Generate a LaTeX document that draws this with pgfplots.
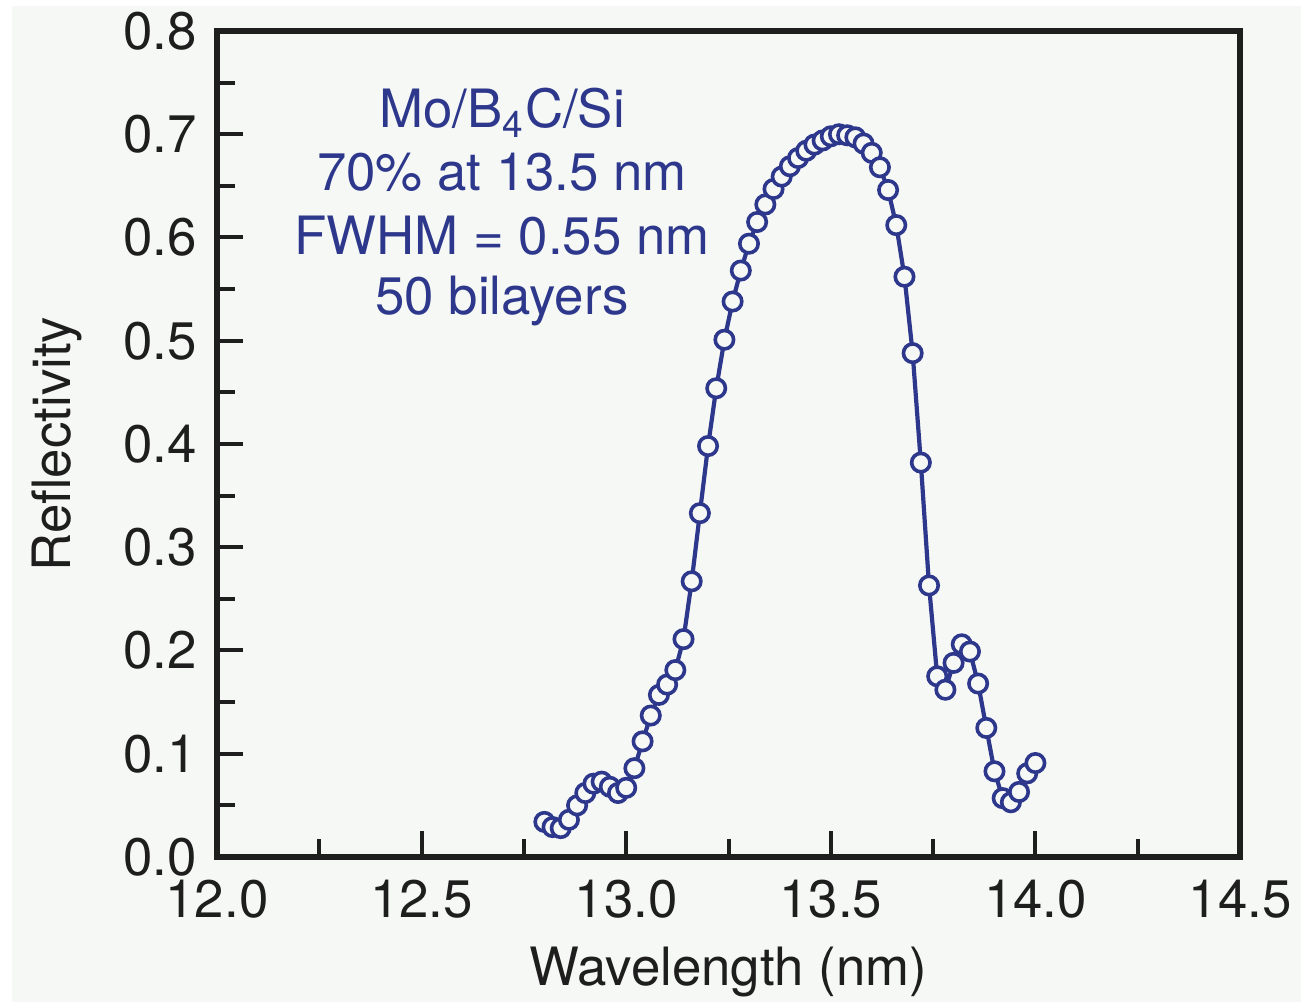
\documentclass[border=0pt]{standalone}
\usepackage{fontspec}
\setmainfont{TeX Gyre Heros}
\usepackage{pgfplots}
\pgfplotsset{compat=1.18}
\definecolor{curveblue}{RGB}{45,56,140}
\definecolor{bggray}{RGB}{246,248,245}
\definecolor{axisblack}{RGB}{30,30,30}
\newcommand{\chartfont}{\fontsize{13.2}{15.6}\selectfont}

\begin{document}
\begin{tikzpicture}
\path[use as bounding box] (-54.25pt,-36.25pt) rectangle (271pt,214.25pt);
\fill[bggray] (-51.25pt,-36.25pt) rectangle (271pt,212.75pt);
\begin{axis}[
    scale only axis,
    width=255.75pt, height=206.5pt,
    xmin=12, xmax=14.5, ymin=0, ymax=0.8,
    xtick={12,12.5,13,13.5,14,14.5},
    ytick={0,0.1,0.2,0.3,0.4,0.5,0.6,0.7,0.8},
    minor tick num=1,
    xtick pos=left, ytick pos=left,
    tick align=inside,
    major tick length=6.5pt, minor tick length=4.5pt,
    every tick/.style={axisblack, line width=1pt},
    axis line style={axisblack, line width=1.5pt},
    /pgf/number format/.cd, fixed, fixed zerofill, precision=1, assume math mode=true,
    /pgfplots/.cd,
    tick label style={font=\chartfont, axisblack},
    xticklabel style={yshift=-1.3pt, inner sep=2pt, yshift=-2.3pt},
    yticklabel style={xshift=-1.5pt, inner ysep=1pt},
    xlabel={Wavelength (nm)},
    ylabel={Reflectivity},
    label style={font=\chartfont, axisblack},
    xlabel style={at={(axis description cs:0.5,0)}, anchor=base, yshift=-32pt},
    ylabel style={at={(axis description cs:-0.1564,0.5)}, anchor=center, rotate=0},
    clip=false,
]
\addplot[curveblue, line width=1.05pt, mark=*, mark size=2.3pt,
    mark options={line width=0.9pt, fill=bggray, draw=curveblue}] coordinates {
(12.80,0.034) (12.82,0.029) (12.84,0.028) (12.86,0.036) (12.88,0.050)
(12.90,0.062) (12.92,0.071) (12.94,0.073) (12.96,0.068) (12.98,0.062)
(13.00,0.067) (13.02,0.086) (13.04,0.112) (13.06,0.137) (13.08,0.157)
(13.10,0.167) (13.12,0.181) (13.14,0.211) (13.16,0.267) (13.18,0.333)
(13.20,0.398) (13.22,0.454) (13.24,0.501) (13.26,0.538) (13.28,0.568)
(13.30,0.594) (13.32,0.615) (13.34,0.632) (13.36,0.647) (13.38,0.659)
(13.40,0.669) (13.42,0.677) (13.44,0.684) (13.46,0.690) (13.48,0.694)
(13.50,0.698) (13.52,0.700) (13.54,0.699) (13.56,0.697) (13.58,0.691)
(13.60,0.682) (13.62,0.668) (13.64,0.646) (13.66,0.612) (13.68,0.562)
(13.70,0.488) (13.72,0.382) (13.74,0.263) (13.76,0.175) (13.78,0.162)
(13.80,0.188) (13.82,0.206) (13.84,0.199) (13.86,0.168) (13.88,0.125)
(13.90,0.083) (13.92,0.057) (13.94,0.053) (13.96,0.063) (13.98,0.081)
(14.00,0.091)
};
\node[font=\chartfont, text=curveblue, anchor=base] at (axis cs:12.6965,0.7063) {Mo/B\textsubscript{4}C/Si};
\node[font=\chartfont, text=curveblue, anchor=base] at (axis cs:12.6965,0.646) {70\% at 13.5 nm};
\node[font=\chartfont, text=curveblue, anchor=base] at (axis cs:12.6965,0.584) {FWHM = 0.55 nm};
\node[font=\chartfont, text=curveblue, anchor=base] at (axis cs:12.6965,0.525) {50 bilayers};
\end{axis}
\end{tikzpicture}
\end{document}
